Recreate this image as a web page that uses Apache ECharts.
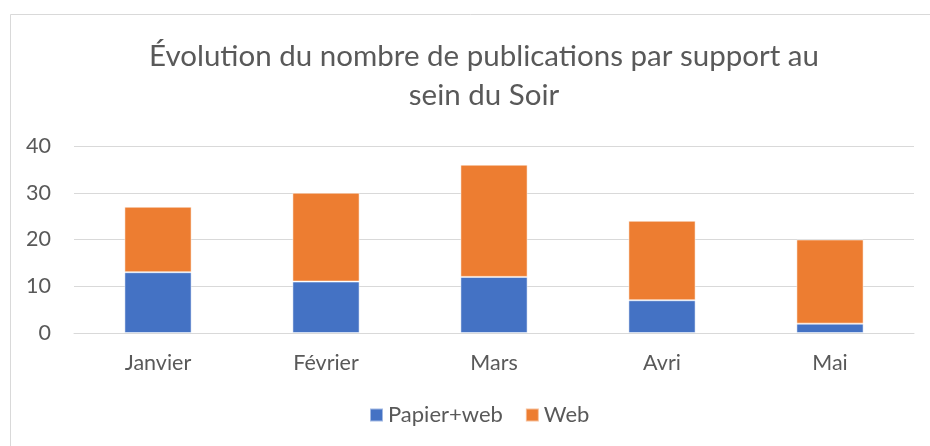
<!DOCTYPE html>
<html><head><meta charset="utf-8">
<script src="https://cdn.jsdelivr.net/npm/echarts@6/dist/echarts.min.js"></script>
<style>html,body{margin:0;padding:0;background:#fff}#c{width:930px;height:446px}</style>
</head><body><div id="c"></div>
<script>
const categories = ['Janvier', 'Février', 'Mars', 'Avri', 'Mai'];
const papierWeb = [13, 11, 12, 7, 2];
const web = [14, 19, 24, 17, 18];
const yTicks = [0, 10, 20, 30, 40];

const FONT = 'Lato, "Open Sans", sans-serif';
const chart = echarts.init(document.getElementById('c'), null, {renderer: 'canvas'});
chart.setOption({
  backgroundColor: '#fff',
  animation: false,
  graphic: [{type: 'rect', shape: {x: 10.5, y: 14.5, width: 940, height: 460}, style: {fill: 'none', stroke: '#D9D9D9', lineWidth: 1}, silent: true}],
  title: {
    text: 'Évolution du nombre de publications par support au\nsein du Soir',
    left: 484, top: 37, padding: 0, textAlign: 'center',
    textStyle: {fontFamily: FONT, fontSize: 29.5, fontWeight: 'normal', color: '#595959', lineHeight: 39}
  },
  legend: {
    bottom: 15, left: 364, itemWidth: 13, itemHeight: 13, itemGap: 22,
    icon: 'rect',
    textStyle: {fontFamily: FONT, fontSize: 22, color: '#595959'},
    data: ['Papier+web', 'Web']
  },
  grid: {left: 74, right: 16, top: 146, bottom: 113, containLabel: false},
  xAxis: {
    type: 'category', data: categories,
    axisLine: {lineStyle: {color: '#D9D9D9', width: 1}},
    axisTick: {show: false},
    axisLabel: {fontFamily: FONT, fontSize: 21.5, color: '#595959', margin: 19}
  },
  yAxis: {
    type: 'value', min: yTicks[0], max: yTicks[yTicks.length - 1], interval: 10,
    axisLine: {show: false}, axisTick: {show: false},
    splitLine: {lineStyle: {color: '#D9D9D9', width: 1}},
    axisLabel: {fontFamily: FONT, fontSize: 21.5, color: '#595959', margin: 23}
  },
  series: [
    {name: 'Papier+web', type: 'bar', stack: 'a', data: papierWeb, barCategoryGap: '60%',
     itemStyle: {color: '#4472C4', borderColor: 'rgba(255,255,255,0.5)', borderWidth: 1}},
    {name: 'Web', type: 'bar', stack: 'a', data: web, barCategoryGap: '60%',
     itemStyle: {color: '#ED7D31', borderColor: 'rgba(255,255,255,0.5)', borderWidth: 1}}
  ]
});
</script></body></html>
